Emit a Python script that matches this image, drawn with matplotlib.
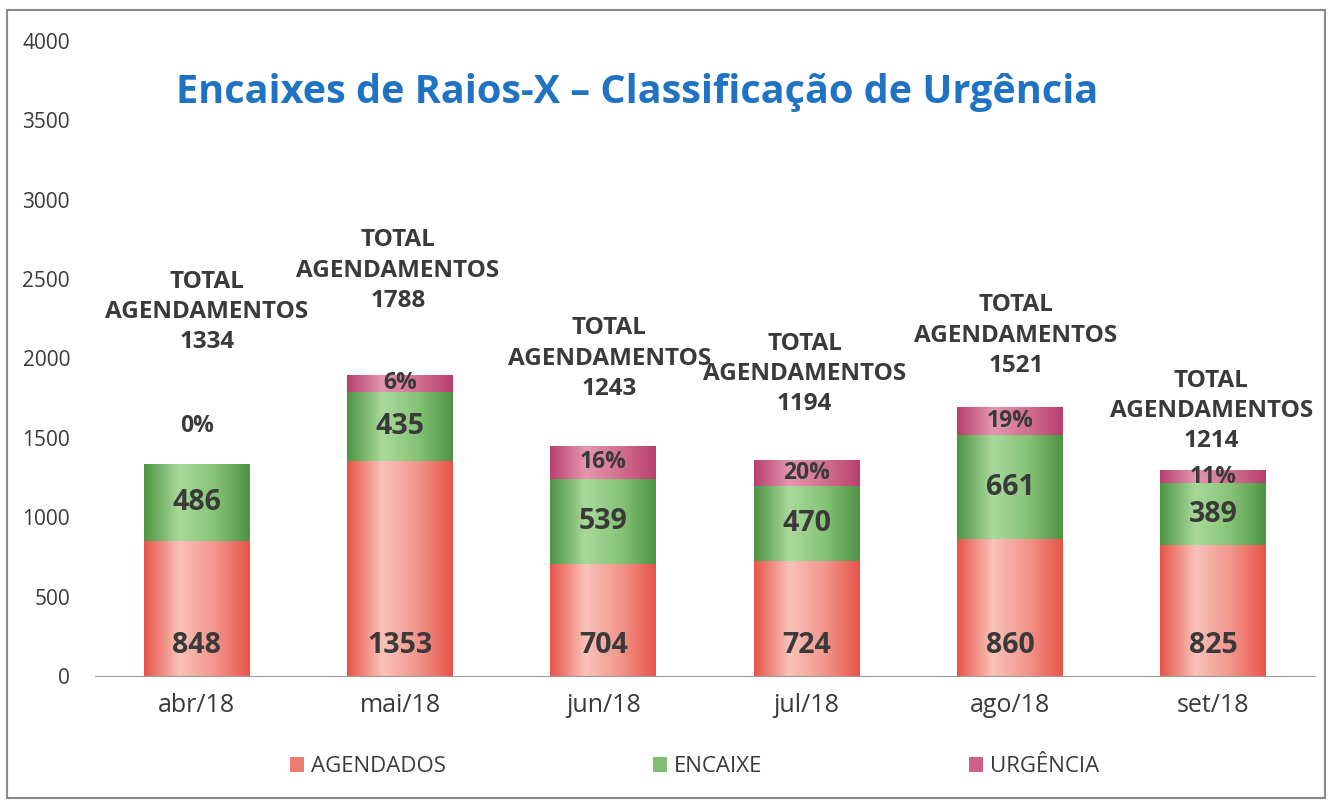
import matplotlib.pyplot as plt
from matplotlib.colors import LinearSegmentedColormap
from matplotlib.patches import Rectangle
import numpy as np

# data
meses = ["abr/18", "mai/18", "jun/18", "jul/18", "ago/18", "set/18"]
agendados = [848, 1353, 704, 724, 860, 825]
encaixe = [486, 435, 539, 470, 661, 389]
urgencia = [0, 110, 205, 165, 173, 83]
urg_pct = ["0%", "6%", "16%", "20%", "19%", "11%"]
total_agend = [1334, 1788, 1243, 1194, 1521, 1214]
# height of the "TOTAL AGENDAMENTOS" text blocks (data units)
total_y = [2560, 2820, 2265, 2170, 2410, 1935]
total_dx = [0.05, -0.01, 0.03, -0.01, 0.03, -0.01]

plt.rcParams['font.family'] = ['Open Sans', 'DejaVu Sans']
txt = '#3a3a3a'

fig = plt.figure(figsize=(13.28, 8.01), dpi=100)
ax = fig.add_axes([95/1328, 1-676/801, (1315-95)/1328, (676-41)/801])

x = np.arange(len(meses))
w = 0.52
base2 = np.array(agendados) + np.array(encaixe)

b1 = ax.bar(x, agendados, w, color='#ee7b72', label='AGENDADOS', zorder=2)
b2 = ax.bar(x, encaixe, w, bottom=agendados, color='#7fbf72', label='ENCAIXE', zorder=2)
b3 = ax.bar(x, urgencia, w, bottom=base2, color='#d0608a', label='URGÊNCIA', zorder=2)

# cylinder-like shading on each segment
grad = np.linspace(0, 1, 200).reshape(1, -1)
cmaps = [
    LinearSegmentedColormap.from_list('r', ['#e8544a', '#f9c2b9', '#f2968c', '#e8544a']),
    LinearSegmentedColormap.from_list('g', ['#4e9444', '#a9d99a', '#86c477', '#4e9444']),
    LinearSegmentedColormap.from_list('u', ['#b8406e', '#e396b0', '#d3708f', '#b8406e']),
]
for bars, cm in zip([b1, b2, b3], cmaps):
    for p in bars:
        if p.get_height() <= 0:
            continue
        x0, y0 = p.get_x(), p.get_y()
        im = ax.imshow(grad, extent=[x0, x0 + p.get_width(), y0, y0 + p.get_height()],
                       aspect='auto', cmap=cm, zorder=2.5)
        im.set_clip_path(p)

ax.set_xlim(-0.5, len(meses) - 0.5)
ax.set_ylim(0, 4000)
ax.set_yticks(range(0, 4001, 500))
ax.set_xticks(x, meses)
ax.tick_params(axis='y', length=0, pad=18, labelsize=15, labelcolor=txt)
ax.tick_params(axis='x', length=0, pad=12, labelsize=18, labelcolor=txt)
for s in ['top', 'right', 'left']:
    ax.spines[s].set_visible(False)
ax.spines['bottom'].set_color('#9a9a9a')

# value labels
for i in range(len(meses)):
    ax.text(x[i], 195, str(agendados[i]), ha='center', va='center',
            fontsize=20.5, fontweight='bold', color=txt, zorder=4)
    ax.text(x[i], agendados[i] + encaixe[i] / 2, str(encaixe[i]), ha='center', va='center',
            fontsize=20.5, fontweight='bold', color=txt, zorder=4)
    if urgencia[i] > 0:
        py = base2[i] + urgencia[i] / 2
    else:
        py = base2[i] + 240
    ax.text(x[i], py, urg_pct[i], ha='center', va='center',
            fontsize=16.5, fontweight='bold', color=txt, zorder=4)
    ax.text(x[i] + total_dx[i], total_y[i], "TOTAL\nAGENDAMENTOS\n%d" % total_agend[i],
            ha='center', va='top', fontsize=17.5, fontweight='bold', color=txt,
            linespacing=1.35, zorder=4)

fig.text(637/1328, 1-92/801, "Encaixes de Raios-X – Classificação de Urgência",
         ha='center', va='center', fontsize=28.5, fontweight='bold', color='#1f73c2')

leg = fig.legend(handles=[b1, b2, b3], loc='center', bbox_to_anchor=(0.523, 1-767/801),
                 ncol=3, frameon=False, fontsize=16, handlelength=0.65, handleheight=0.65,
                 columnspacing=9.3, handletextpad=0.3)
for t in leg.get_texts():
    t.set_color(txt)

fig.patches.append(Rectangle((7/1328, 3/801), 1318/1328, 788/801, transform=fig.transFigure,
                             fill=False, edgecolor='#8a8a8a', linewidth=1.5))

fig.savefig('out.png', dpi=100)
